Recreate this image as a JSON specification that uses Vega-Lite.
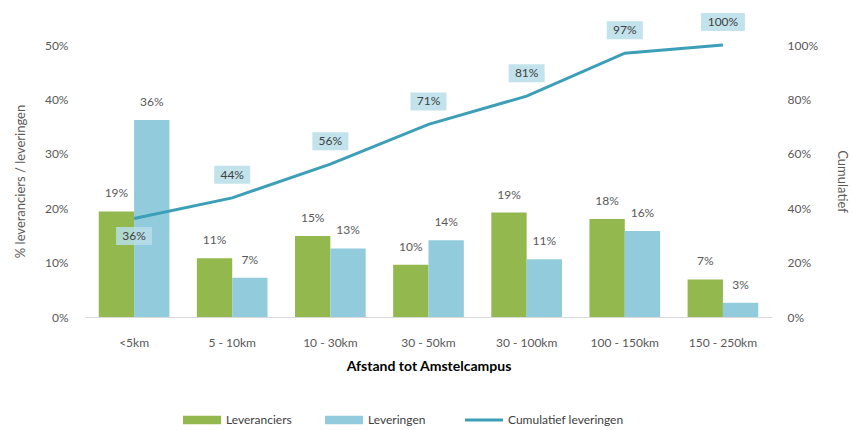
{
  "$schema": "https://vega.github.io/schema/vega-lite/v6.json",
  "width": 687,
  "height": 272,
  "autosize": {"type": "none"},
  "padding": {"left": 85, "top": 45, "right": 81, "bottom": 113},
  "background": "white",
  "config": {
    "view": {"stroke": null},
    "font": "Lato",
    "axis": {"labelFont": "Lato", "titleFont": "Lato", "labelColor": "#595959", "titleColor": "#595959", "grid": false, "ticks": false, "tickSize": 0, "labelFontSize": 12}
  },
  "datasets": {
    "bars": [
      {"cat": "<5km", "series": "Leveranciers", "value": 0.194},
      {"cat": "<5km", "series": "Leveringen", "value": 0.362},
      {"cat": "5 - 10km", "series": "Leveranciers", "value": 0.108},
      {"cat": "5 - 10km", "series": "Leveringen", "value": 0.072},
      {"cat": "10 - 30km", "series": "Leveranciers", "value": 0.149},
      {"cat": "10 - 30km", "series": "Leveringen", "value": 0.126},
      {"cat": "30 - 50km", "series": "Leveranciers", "value": 0.096},
      {"cat": "30 - 50km", "series": "Leveringen", "value": 0.141},
      {"cat": "30 - 100km", "series": "Leveranciers", "value": 0.192},
      {"cat": "30 - 100km", "series": "Leveringen", "value": 0.106},
      {"cat": "100 - 150km", "series": "Leveranciers", "value": 0.180},
      {"cat": "100 - 150km", "series": "Leveringen", "value": 0.158},
      {"cat": "150 - 250km", "series": "Leveranciers", "value": 0.069},
      {"cat": "150 - 250km", "series": "Leveringen", "value": 0.026}
    ],
    "cum": [
      {"cat": "<5km", "cumulatief": 0.362},
      {"cat": "5 - 10km", "cumulatief": 0.438},
      {"cat": "10 - 30km", "cumulatief": 0.562},
      {"cat": "30 - 50km", "cumulatief": 0.708},
      {"cat": "30 - 100km", "cumulatief": 0.812},
      {"cat": "100 - 150km", "cumulatief": 0.970},
      {"cat": "150 - 250km", "cumulatief": 1.0}
    ]
  },
  "layer": [
    {
      "data": {"name": "bars"},
      "encoding": {
        "x": {
          "field": "cat", "type": "nominal",
          "sort": ["<5km", "5 - 10km", "10 - 30km", "30 - 50km", "30 - 100km", "100 - 150km", "150 - 250km"],
          "scale": {"paddingInner": 0.28, "paddingOuter": 0.14},
          "axis": {"title": "Afstand tot Amstelcampus", "labelAngle": 0, "labelPadding": 20, "titlePadding": 11, "titleFontSize": 14, "titleFontWeight": "bold", "titleColor": "#000000", "domain": true, "domainColor": "#d9d9d9", "domainWidth": 1}
        },
        "xOffset": {"field": "series", "type": "nominal", "sort": ["Leveranciers", "Leveringen"], "scale": {"paddingInner": 0, "paddingOuter": 0}},
        "y": {
          "field": "value", "type": "quantitative",
          "scale": {"domain": [0, 0.5]},
          "axis": {"title": "% leveranciers / leveringen", "orient": "left", "format": ".0%", "values": [0, 0.1, 0.2, 0.3, 0.4, 0.5], "labelOverlap": false, "domain": false, "labelPadding": 17, "titlePadding": 17, "titleFontSize": 13, "titleFontWeight": "normal"}
        }
      },
      "layer": [
        {
          "mark": {"type": "bar"},
          "encoding": {
            "color": {
              "field": "series", "type": "nominal",
              "scale": {"domain": ["Leveranciers", "Leveringen", "Cumulatief leveringen"], "range": ["#92b84e", "#92cbdc", "#3c9fb7"]},
              "legend": {
                "title": null, "orient": "none", "direction": "horizontal",
                "legendX": 111, "legendY": 369,
                "labelFont": "Lato", "labelFontSize": 12, "labelColor": "#404040",
                "symbolType": "M-1,-0.22H1V0.22H-1Z",
                "symbolSize": 1444, "labelOffset": 18, "columnPadding": 33,
                "encode": {
                  "symbols": {
                    "update": {
                      "shape": {"signal": "datum.value === 'Cumulatief leveringen' ? 'M-1,0H1' : 'M-1,-0.22H1V0.22H-1Z'"},
                      "fill": {"signal": "datum.value === 'Cumulatief leveringen' ? 'transparent' : scale('color', datum.value)"},
                      "stroke": {"signal": "scale('color', datum.value)"},
                      "strokeWidth": {"signal": "datum.value === 'Cumulatief leveringen' ? 3 : 0"}
                    }
                  }
                }
              }
            }
          }
        },
        {
          "mark": {"type": "text", "dy": -18, "fontSize": 12, "color": "#595959", "font": "Lato"},
          "encoding": {"text": {"field": "value", "type": "quantitative", "format": ".0%"}}
        }
      ]
    },
    {
      "data": {"name": "cum"},
      "encoding": {
        "x": {"field": "cat", "type": "nominal", "sort": ["<5km", "5 - 10km", "10 - 30km", "30 - 50km", "30 - 100km", "100 - 150km", "150 - 250km"]},
        "y": {
          "field": "cumulatief", "type": "quantitative",
          "scale": {"domain": [0, 1]},
          "axis": {"title": "Cumulatief", "orient": "right", "format": ".0%", "values": [0, 0.2, 0.4, 0.6, 0.8, 1.0], "labelOverlap": false, "domain": false, "labelPadding": 15, "titlePadding": 17, "titleFontSize": 13, "titleFontWeight": "normal"}
        }
      },
      "layer": [
        {
          "mark": {"type": "line", "strokeWidth": 3},
          "encoding": {"color": {"datum": "Cumulatief leveringen", "type": "nominal"}}
        },
        {
          "mark": {"type": "point", "filled": true, "size": 100, "fill": "#b7dee8", "opacity": 0.85, "strokeWidth": 0},
          "encoding": {
            "shape": {
              "condition": [
                {"test": "datum.cat === '<5km'", "value": "M-3.6,1.7H3.6V5.3H-3.6Z"},
                {"test": "datum.cat === '150 - 250km'", "value": "M-4.4,-6.4H4.4V-2.8H-4.4Z"}
              ],
              "value": "M-3.6,-6.4H3.6V-2.8H-3.6Z"
            }
          }
        },
        {
          "transform": [{"filter": "datum.cat === '<5km'"}],
          "mark": {"type": "text", "dy": 17.5, "fontSize": 12, "color": "#404040", "font": "Lato"},
          "encoding": {"text": {"field": "cumulatief", "type": "quantitative", "format": ".0%"}}
        },
        {
          "transform": [{"filter": "datum.cat !== '<5km'"}],
          "mark": {"type": "text", "dy": -23, "fontSize": 12, "color": "#404040", "font": "Lato"},
          "encoding": {"text": {"field": "cumulatief", "type": "quantitative", "format": ".0%"}}
        }
      ]
    }
  ],
  "resolve": {"scale": {"y": "independent"}}
}
